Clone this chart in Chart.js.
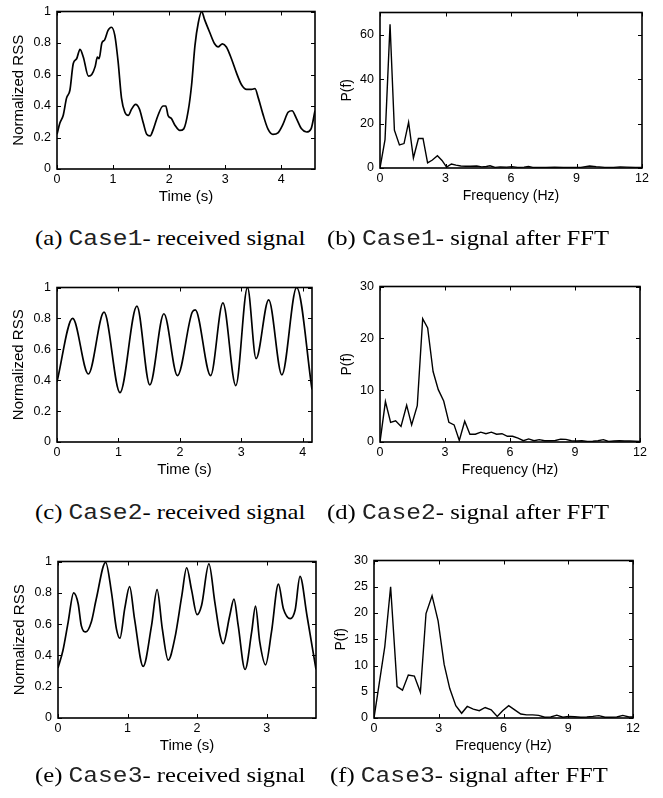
<!DOCTYPE html>
<html>
<head>
<meta charset="utf-8">
<script src="https://cdn.jsdelivr.net/npm/chart.js@4.4.1/dist/chart.umd.min.js"></script>
<style>
  body { margin: 0; background: #fff; }
  #page { position: relative; width: 663px; height: 798px; overflow: hidden; }
  canvas { position: absolute; }
  .cap { position: absolute; font-family: "Liberation Serif", "Times New Roman", serif; font-size: 22px; line-height: 22px;
         white-space: nowrap; color: #000; transform: scaleX(1.12); transform-origin: left center; }
  .cap span { font-family: "Liberation Mono", "Courier New", monospace; color: #222; }
</style>
</head>
<body>
<div id="page">
  <canvas id="cA"></canvas>
  <canvas id="cB"></canvas>
  <canvas id="cC"></canvas>
  <canvas id="cD"></canvas>
  <canvas id="cE"></canvas>
  <canvas id="cF"></canvas>
  <div class="cap" style="left:35px; top:227px">(a) <span>Case1</span>- received signal</div>
  <div class="cap" style="left:327px; top:227px">(b) <span>Case1</span>- signal after FFT</div>
  <div class="cap" style="left:35px; top:501px">(c) <span>Case2</span>- received signal</div>
  <div class="cap" style="left:327px; top:501px">(d) <span>Case2</span>- signal after FFT</div>
  <div class="cap" style="left:35px; top:764px">(e) <span>Case3</span>- received signal</div>
  <div class="cap" style="left:330px; top:764px">(f) <span>Case3</span>- signal after FFT</div>
</div>
<script>
// received signals: [time (s), normalized RSS]
const case1Signal = [
  [0, 0.22], [0.05, 0.29], [0.11, 0.34], [0.17, 0.45], [0.23, 0.50], [0.29, 0.67], [0.35, 0.70],
  [0.41, 0.76], [0.47, 0.71], [0.56, 0.59], [0.62, 0.60], [0.68, 0.65], [0.72, 0.71], [0.75, 0.70],
  [0.80, 0.80], [0.85, 0.82], [0.91, 0.88], [0.97, 0.90], [1.03, 0.85], [1.09, 0.68], [1.15, 0.45],
  [1.21, 0.36], [1.27, 0.34], [1.33, 0.38], [1.40, 0.41], [1.47, 0.38], [1.54, 0.29], [1.60, 0.22],
  [1.66, 0.21], [1.72, 0.255], [1.80, 0.34], [1.89, 0.40], [1.94, 0.40], [1.98, 0.34], [2.04, 0.32],
  [2.10, 0.28], [2.19, 0.245], [2.26, 0.255], [2.34, 0.37], [2.40, 0.535], [2.46, 0.785], [2.52, 0.93],
  [2.58, 1.0], [2.63, 0.95], [2.72, 0.87], [2.81, 0.795], [2.87, 0.775], [2.95, 0.795], [3.02, 0.775],
  [3.11, 0.70], [3.20, 0.61], [3.29, 0.535], [3.38, 0.505], [3.47, 0.505], [3.53, 0.51], [3.59, 0.45],
  [3.67, 0.35], [3.76, 0.255], [3.85, 0.22], [3.94, 0.23], [4.03, 0.285], [4.12, 0.36], [4.19, 0.37],
  [4.27, 0.32], [4.36, 0.255], [4.45, 0.235], [4.53, 0.255], [4.60, 0.37]
];
const case2Signal = [
  [0, 0.39], [0.255, 0.80], [0.51, 0.44], [0.765, 0.84], [1.025, 0.32], [1.30, 0.88], [1.51, 0.37],
  [1.74, 0.83], [1.96, 0.43], [2.20, 0.84], [2.25, 0.855], [2.50, 0.43], [2.70, 0.90], [2.91, 0.365],
  [3.10, 1.0], [3.24, 0.54], [3.445, 0.92], [3.66, 0.435], [3.90, 1.0], [4.15, 0.34]
];
const case3Signal = [
  [0, 0.32], [0.07, 0.43], [0.145, 0.61], [0.225, 0.80], [0.29, 0.73], [0.335, 0.59], [0.40, 0.55],
  [0.48, 0.615], [0.55, 0.76], [0.685, 0.995], [0.77, 0.80], [0.84, 0.57], [0.89, 0.51], [0.96, 0.70],
  [1.03, 0.84], [1.10, 0.635], [1.225, 0.33], [1.345, 0.59], [1.425, 0.82], [1.50, 0.57], [1.585, 0.37],
  [1.68, 0.51], [1.78, 0.78], [1.85, 0.96], [1.92, 0.82], [2.0, 0.66], [2.065, 0.72], [2.17, 0.985],
  [2.255, 0.74], [2.33, 0.53], [2.375, 0.475], [2.47, 0.655], [2.53, 0.76], [2.59, 0.595], [2.69, 0.31],
  [2.785, 0.55], [2.84, 0.715], [2.90, 0.49], [2.985, 0.34], [3.07, 0.55], [3.17, 0.855], [3.24, 0.70],
  [3.34, 0.635], [3.41, 0.69], [3.48, 0.905], [3.58, 0.655], [3.71, 0.31]
];

// spectra: [frequency (Hz), P(f)]
const case1Spectrum = [
  [0, 0], [0.23, 12.8], [0.46, 64.7], [0.66, 17], [0.89, 10.4], [1.10, 11], [1.31, 20.6], [1.53, 4.5],
  [1.76, 13.3], [1.97, 13.3], [2.18, 2.3], [2.40, 3.6], [2.63, 5.5], [2.84, 3.4], [3.05, 0.4], [3.27, 1.8],
  [3.48, 1.3], [3.70, 0.9], [3.92, 0.8], [4.14, 0.8], [4.43, 0.9], [4.66, 0.5], [4.87, 0.7], [5.04, 1.0],
  [5.27, 0.3], [5.5, 0.5], [5.8, 0.4], [6.05, 0.6], [6.3, 0.3], [6.6, 0.4], [6.8, 0.7], [7.0, 0.3],
  [7.3, 0.3], [7.6, 0.2], [8.0, 0.4], [8.4, 0.3], [8.8, 0.2], [9.2, 0.3], [9.6, 0.9], [9.9, 0.6],
  [10.3, 0.3], [10.7, 0.3], [11.0, 0.5], [11.3, 0.4], [11.7, 0.2], [12, 0.2]
];
const case2Spectrum = [
  [0, 0], [0.25, 7.8], [0.49, 3.8], [0.72, 4.1], [0.97, 3.0], [1.23, 7.1], [1.46, 3.3], [1.72, 7.0],
  [1.97, 23.8], [2.20, 22.0], [2.45, 13.6], [2.69, 10.1], [2.94, 7.9], [3.18, 3.8], [3.42, 3.3], [3.66, 0.3],
  [3.91, 4.0], [4.15, 1.5], [4.40, 1.5], [4.65, 1.9], [4.89, 1.6], [5.14, 1.9], [5.38, 1.5], [5.63, 1.6],
  [5.88, 1.1], [6.12, 1.1], [6.37, 0.75], [6.62, 0.25], [6.86, 0.6], [7.11, 0.25], [7.35, 0.45], [7.60, 0.25],
  [7.85, 0.25], [8.09, 0.3], [8.34, 0.55], [8.58, 0.5], [8.83, 0.25], [9.08, 0.2], [9.32, 0.25], [9.57, 0.1],
  [9.82, 0.15], [10.06, 0.25], [10.31, 0.45], [10.55, 0.1], [10.80, 0.2], [11.05, 0.25], [11.29, 0.2],
  [11.54, 0.2], [12, 0.1]
];
const case3Spectrum = [
  [0, 0], [0.25, 6.8], [0.50, 13.6], [0.77, 25.0], [1.07, 6.0], [1.32, 5.3], [1.59, 8.2], [1.87, 8.0],
  [2.15, 4.9], [2.41, 19.9], [2.69, 23.3], [2.97, 18.5], [3.25, 10.2], [3.51, 5.6], [3.79, 2.35], [4.06, 0.9],
  [4.32, 2.2], [4.60, 1.7], [4.88, 1.4], [5.15, 2.0], [5.43, 1.55], [5.71, 0.3], [5.96, 1.4], [6.24, 2.35],
  [6.52, 1.55], [6.80, 0.75], [7.07, 0.6], [7.35, 0.6], [7.63, 0.5], [7.91, 0.15], [8.19, 0.2], [8.47, 0.55],
  [8.75, 0.15], [9.02, 0.3], [9.30, 0.25], [9.58, 0.15], [9.86, 0.2], [10.14, 0.3], [10.42, 0.45],
  [10.70, 0.15], [10.98, 0.15], [11.25, 0.2], [11.53, 0.5], [11.81, 0.2], [12, 0.2]
];

// tick labels
const rssTicks = [0, 0.2, 0.4, 0.6, 0.8, 1];
const time1Ticks = [0, 1, 2, 3, 4];
const time2Ticks = [0, 1, 2, 3, 4];
const time3Ticks = [0, 1, 2, 3];
const freqTicks = [0, 3, 6, 9, 12];
const power1Ticks = [0, 20, 40, 60];
const power2Ticks = [0, 10, 20, 30];
const power3Ticks = [0, 5, 10, 15, 20, 25, 30];

const FONT = '"Liberation Sans", Arial, Helvetica, sans-serif';

// MATLAB-like box with inward ticks on all four sides
const frameTicks = {
  id: 'frameTicks',
  afterDatasetsDraw(chart) {
    const { ctx, chartArea: a, scales: { x, y } } = chart;
    ctx.save();
    ctx.strokeStyle = '#000';
    ctx.lineWidth = 1;
    ctx.beginPath();
    x.ticks.forEach(t => {
      const px = Math.round(x.getPixelForValue(t.value)) + 0.5;
      ctx.moveTo(px, a.bottom); ctx.lineTo(px, a.bottom - 4);
      ctx.moveTo(px, a.top); ctx.lineTo(px, a.top + 4);
    });
    y.ticks.forEach(t => {
      const py = Math.round(y.getPixelForValue(t.value)) + 0.5;
      ctx.moveTo(a.left, py); ctx.lineTo(a.left + 4, py);
      ctx.moveTo(a.right, py); ctx.lineTo(a.right - 4, py);
    });
    ctx.stroke();
    ctx.lineWidth = 1.6;
    ctx.strokeRect(a.left, a.top, a.right - a.left, a.bottom - a.top);
    ctx.restore();
  }
};

function makePanel(id, box, points, xMax, xTicks, yMax, yTicks, xTitle, yTitle, smooth, yTitleGap, titleSize) {
  const [l, t, r, b] = box;
  const canvas = document.getElementById(id);
  const w = r - l + 70, h = b - t + 10 + 45;
  canvas.width = w; canvas.height = h;
  canvas.style.left = (l - 60) + 'px';
  canvas.style.top = (t - 10) + 'px';
  canvas.style.width = w + 'px';
  canvas.style.height = h + 'px';
  const half = titleSize * 1.2 / 2;

  return new Chart(canvas, {
    type: 'line',
    data: {
      datasets: [{
        data: points.map(p => ({ x: p[0], y: p[1] })),
        borderColor: '#000',
        borderWidth: smooth ? 1.7 : 1.4,
        pointRadius: 0,
        fill: false,
        tension: 0,
        cubicInterpolationMode: smooth ? 'monotone' : 'default'
      }]
    },
    options: {
      responsive: false,
      animation: false,
      layout: { padding: { left: 0, top: 10, right: 10, bottom: 0 } },
      plugins: { legend: { display: false }, tooltip: { enabled: false } },
      scales: {
        x: {
          type: 'linear', min: 0, max: xMax,
          afterFit: s => { s.height = 45; },
          afterBuildTicks: s => { s.ticks = xTicks.map(v => ({ value: v })); },
          grid: { display: false, drawTicks: false },
          border: { display: false },
          ticks: { padding: 3, color: '#000', font: { family: FONT, size: 12.5 }, maxRotation: 0, callback: v => String(v) },
          title: { display: true, text: xTitle, color: '#000', font: { family: FONT, size: titleSize }, padding: { top: 0, bottom: 17 - half } }
        },
        y: {
          type: 'linear', min: 0, max: yMax,
          afterFit: s => { s.width = 60; },
          afterBuildTicks: s => { s.ticks = yTicks.map(v => ({ value: v })); },
          grid: { display: false, drawTicks: false },
          border: { display: false },
          ticks: { padding: 6, color: '#000', font: { family: FONT, size: 12.5 }, callback: v => String(v) },
          title: { display: true, text: yTitle, color: '#000', font: { family: FONT, size: titleSize }, padding: { top: 60 - yTitleGap - half, bottom: 0 } }
        }
      }
    },
    plugins: [frameTicks]
  });
}

makePanel('cA', [57, 8, 315, 169], case1Signal, 4.6, time1Ticks, 1, rssTicks, 'Time (s)', 'Normalized RSS', true, 38, 15);
makePanel('cB', [380, 9, 642, 168], case1Spectrum, 12, freqTicks, 70, power1Ticks, 'Frequency (Hz)', 'P(f)', false, 33, 14);
makePanel('cC', [57, 284, 312, 442], case2Signal, 4.15, time2Ticks, 1, rssTicks, 'Time (s)', 'Normalized RSS', true, 38, 15);
makePanel('cD', [380, 283, 640, 442], case2Spectrum, 12, freqTicks, 30, power2Ticks, 'Frequency (Hz)', 'P(f)', false, 33, 14);
makePanel('cE', [58, 558, 316, 718], case3Signal, 3.71, time3Ticks, 1, rssTicks, 'Time (s)', 'Normalized RSS', true, 38, 15);
makePanel('cF', [374, 557, 633, 718], case3Spectrum, 12, freqTicks, 30, power3Ticks, 'Frequency (Hz)', 'P(f)', false, 33, 14);
</script>
</body>
</html>
